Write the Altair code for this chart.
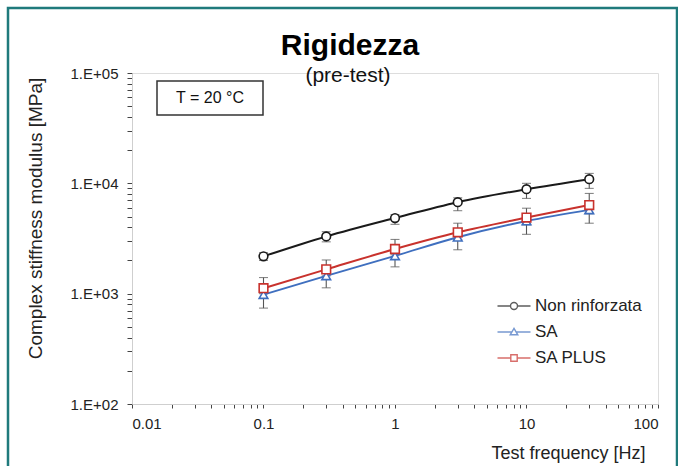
import altair as alt
import pandas as pd

# Test frequencies [Hz]
freq = [0.1, 0.3, 1, 3, 10, 30]

series_names = ["Non rinforzata", "SA", "SA PLUS"]
series_colors = ["#1a1a1a", "#3f6fbf", "#c8322d"]

# Complex stiffness modulus [MPa]: mean and error-bar limits
non_mean = [2180, 3300, 4850, 6750, 8850, 10900]
non_low = [2000, 2950, 4250, 5650, 7300, 9000]
non_high = [2350, 3650, 5200, 7400, 10000, 12300]

sa_mean = [980, 1450, 2200, 3250, 4550, 5750]
sa_low = [740, 1130, 1750, 2500, 3450, 4350]
sa_high = [1150, 1650, 2500, 3700, 5300, 6900]

sap_mean = [1120, 1660, 2540, 3600, 4900, 6350]
sap_low = [1000, 1450, 2250, 3100, 4200, 5300]
sap_high = [1400, 2020, 3100, 4350, 5950, 8100]

rows = []
for name, m, lo, hi in [
    ("Non rinforzata", non_mean, non_low, non_high),
    ("SA", sa_mean, sa_low, sa_high),
    ("SA PLUS", sap_mean, sap_low, sap_high),
]:
    for f, a, b, c in zip(freq, m, lo, hi):
        rows.append({"serie": name, "freq": f, "E": a, "lo": b, "hi": c})
df = pd.DataFrame(rows)

FONT = "Liberation Sans"

x_ticks = [k * 10.0 ** e for e in range(-2, 2) for k in range(1, 10)] + [100.0]
y_ticks = [k * 10 ** e for e in range(2, 5) for k in range(1, 10)] + [100000]

is_major = "abs(log(datum.value)/LN10 - round(log(datum.value)/LN10)) < 1e-6"

x_enc = alt.X(
    "freq:Q",
    scale=alt.Scale(type="log", domain=[0.01, 100]),
    axis=alt.Axis(
        values=x_ticks,
        labelExpr=f"{is_major} ? format(datum.value, '~g') : ''",
        labelOverlap=False,
        labelFontSize=15,
        labelColor="#222",
        labelPadding=8,
        tickSize=4,
        tickColor="#444",
        domainColor="#cfcfcf",
        grid=False,
        title="Test frequency [Hz]",
        titleFontSize=18,
        titleFontWeight="normal",
        titleColor="#222",
        titleAnchor="end",
        titleAlign="right",
        titleX=513,
        titleY=49,
        titleBaseline="middle",
    ),
)

y_scale = alt.Scale(type="log", domain=[100, 100000])
y_enc = alt.Y(
    "E:Q",
    scale=y_scale,
    axis=alt.Axis(
        values=y_ticks,
        labelExpr=f"{is_major} ? '1.E+0' + format(round(log(datum.value)/LN10), 'd') : ''",
        labelOverlap=False,
        labelFontSize=15,
        labelColor="#222",
        labelPadding=9,
        tickSize=5,
        tickColor="#444",
        domainColor="#cfcfcf",
        grid=False,
        title="Complex stiffness modulus [MPa]",
        titleFontSize=19,
        titleFontWeight="normal",
        titleColor="#222",
        titleX=-97,
        titleY=145,
        titleAlign="center",
        titleBaseline="middle",
    ),
)

color_scale = alt.Scale(domain=series_names, range=series_colors)

# error bars with caps
err_rule = alt.Chart(df).mark_rule(color="#555", strokeWidth=1.1).encode(
    x="freq:Q", y=alt.Y("lo:Q", scale=y_scale), y2="hi:Q"
)
cap_lo = alt.Chart(df).mark_tick(color="#555", thickness=1.1, size=9, orient="horizontal").encode(
    x="freq:Q", y=alt.Y("lo:Q", scale=y_scale)
)
cap_hi = alt.Chart(df).mark_tick(color="#555", thickness=1.1, size=9, orient="horizontal").encode(
    x="freq:Q", y=alt.Y("hi:Q", scale=y_scale)
)

lines = alt.Chart(df).mark_line(strokeWidth=2, interpolate="monotone").encode(
    x=x_enc,
    y=y_enc,
    color=alt.Color("serie:N", scale=color_scale, legend=None),
    order=alt.Order("freq:Q"),
    detail="serie:N",
)

marker_scale = alt.Scale(domain=series_names, range=["circle", "triangle-up", "square"])
points = alt.Chart(df).mark_point(filled=True, fill="white", size=75, strokeWidth=1.6, opacity=1).encode(
    x="freq:Q",
    y=alt.Y("E:Q", scale=y_scale),
    stroke=alt.Stroke("serie:N", scale=color_scale, legend=None),
    shape=alt.Shape("serie:N", scale=marker_scale, legend=None),
)

# legend symbols: line stub with the series marker in the middle
legend_paths = [
    "M-1.65,0H-0.35M0.35,0H1.65M-0.35,0A0.35,0.35 0 1,0 0.35,0A0.35,0.35 0 1,0 -0.35,0Z",
    "M-1.65,0H-0.2M0.2,0H1.65M0,-0.36L0.38,0.28L-0.38,0.28Z",
    "M-1.65,0H-0.32M0.32,0H1.65M-0.32,-0.32H0.32V0.32H-0.32Z",
]
legend_opts = dict(
    title=None,
    orient="none",
    legendX=371,
    legendY=222,
    symbolSize=400,
    symbolFillColor="white",
    symbolStrokeWidth=1.4,
    labelFontSize=17,
    labelColor="#222",
    labelFont=FONT,
    labelOffset=10,
    rowPadding=7,
    padding=0,
)
legend_layer = (
    alt.Chart(df)
    .transform_filter("false")
    .mark_point(filled=True, fill="white", strokeWidth=1.4)
    .encode(
        x="freq:Q",
        y=alt.Y("E:Q", scale=y_scale),
        stroke=alt.Stroke(
            "serie:N",
            scale=alt.Scale(domain=series_names, range=series_colors),
            legend=alt.Legend(**legend_opts),
        ),
        shape=alt.Shape(
            "serie:N",
            scale=alt.Scale(domain=series_names, range=legend_paths),
            legend=alt.Legend(**legend_opts),
        ),
    )
)

one = pd.DataFrame({"k": [0]})

# chart heading
heading = alt.Chart(one).mark_text(
    fontSize=30, font=FONT, fontWeight="bold", color="#000", baseline="alphabetic"
).encode(x=alt.value(218), y=alt.value(-18), text=alt.value("Rigidezza"))
subheading = alt.Chart(one).mark_text(
    fontSize=21, font=FONT, color="#111", baseline="alphabetic"
).encode(x=alt.value(216), y=alt.value(9), text=alt.value("(pre-test)"))

# temperature note box
note_box = alt.Chart(one).mark_rect(fill="white", stroke="#333", strokeWidth=1.5).encode(
    x=alt.value(25), x2=alt.value(131), y=alt.value(8), y2=alt.value(42)
)
note_text = alt.Chart(one).mark_text(fontSize=16, font=FONT, color="#111").encode(
    x=alt.value(78), y=alt.value(25), text=alt.value("T = 20 °C")
)

# outer frame
frame = alt.Chart(one).mark_rect(fill=None, stroke="#1f7a7c", strokeWidth=2.5).encode(
    x=alt.value(-124), x2=alt.value(545), y=alt.value(-65), y2=alt.value(420)
)

chart = (
    alt.layer(
        frame, err_rule, cap_lo, cap_hi, lines, points, legend_layer,
        note_box, note_text, heading, subheading,
    )
    .resolve_scale(stroke="independent", shape="independent")
    .properties(
        width=526,
        height=331,
        padding={"left": 132, "top": 73, "right": 20, "bottom": 62},
        autosize=alt.AutoSizeParams(type="none"),
    )
    .configure_view(stroke=None)
    .configure(font=FONT, background="white")
)

chart.save("out.html", embed_options={"renderer": "svg", "actions": False})
